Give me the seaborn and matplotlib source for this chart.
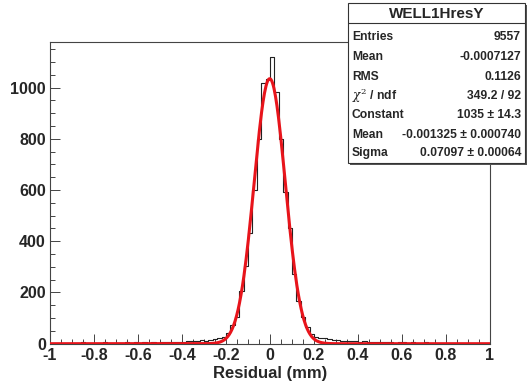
import numpy as np
import pandas as pd
import seaborn as sns
import matplotlib
matplotlib.use("Agg")
import matplotlib.pyplot as plt
from matplotlib.patches import Rectangle
from matplotlib.lines import Line2D

# ---------------- data ----------------
bin_lo, bin_hi, n_bins = -1.0, 1.0, 100
counts = [
    # -1.00 .. -0.40
    2, 3, 1, 4, 2, 3, 2, 5, 3, 2, 4, 3, 5, 2, 4, 3, 4, 6, 3, 5, 4, 5, 3, 6, 4, 7, 5, 6, 8, 7,
    # -0.40 .. -0.20
    8, 10, 9, 11, 13, 12, 15, 18, 22, 27,
    # -0.20 .. 0.20
    40, 73, 106, 204, 304, 433, 602, 798, 1020, 1032,
    1121, 982, 798, 591, 452, 273, 168, 106, 67, 38,
    # 0.20 .. 0.40
    28, 24, 22, 18, 16, 14, 12, 11, 10, 9,
    # 0.40 .. 1.00
    8, 9, 7, 6, 8, 5, 7, 6, 4, 5, 6, 4, 5, 3, 4, 5, 3, 4, 2, 3, 4, 2, 3, 3, 2, 4, 2, 1, 3, 2,
]
fit_constant = 1035.0
fit_mean = -0.001325
fit_sigma = 0.07097

stats_title = "WELL1HresY"
stats_labels = ["Entries", "Mean", "RMS", r"$\chi^{2}$ / ndf", "Constant", "Mean", "Sigma"]
stats_values = ["9557", "-0.0007127", "0.1126", "349.2 / 92",
                "1035 \u00b1 14.3", "-0.001325 \u00b1 0.000740", "0.07097 \u00b1 0.00064"]

x_label = "Residual (mm)"
x_ticks = [-1, -0.8, -0.6, -0.4, -0.2, 0, 0.2, 0.4, 0.6, 0.8, 1]
x_ticklabels = ["-1", "-0.8", "-0.6", "-0.4", "-0.2", "0", "0.2", "0.4", "0.6", "0.8", "1"]
y_ticks = [0, 200, 400, 600, 800, 1000]

# ---------------- style ----------------
sns.set_style("white")
plt.rcParams["font.family"] = ["Liberation Sans", "DejaVu Sans"]
plt.rcParams["mathtext.fontset"] = "dejavuserif"

W, H = 529, 383
fig = plt.figure(figsize=(W / 100, H / 100), dpi=100)

def fx(px):
    return px / W

def fy(py):
    return 1 - py / H

ax_l, ax_r, ax_t, ax_b = 50, 490, 42.3, 343.7
ax = fig.add_axes([fx(ax_l), fy(ax_b), fx(ax_r) - fx(ax_l), fy(ax_t) - fy(ax_b)])

edges = np.linspace(bin_lo, bin_hi, n_bins + 1)
centers = 0.5 * (edges[:-1] + edges[1:])
df = pd.DataFrame({"x": centers, "w": np.asarray(counts, dtype=float)})
sns.histplot(data=df, x="x", weights="w", bins=n_bins, binrange=(bin_lo, bin_hi),
             element="step", fill=False, color="#222222", linewidth=0.8, ax=ax)

xs = np.linspace(bin_lo, bin_hi, 600)
fit_df = pd.DataFrame({"x": xs,
                       "y": fit_constant * np.exp(-0.5 * ((xs - fit_mean) / fit_sigma) ** 2)})
sns.lineplot(data=fit_df, x="x", y="y", color="#e8141b", linewidth=2.2, ax=ax, zorder=5)

ax.set_xlim(bin_lo, bin_hi)
ax.set_ylim(0, 1.05 * max(counts))
ax.set_xticks(x_ticks)
ax.set_xticklabels(x_ticklabels)
ax.set_yticks(y_ticks)
ax.set_xticks(np.arange(-1, 1.0001, 0.05), minor=True)
ax.set_yticks(np.arange(0, 1.05 * max(counts), 50), minor=True)
ax.tick_params(axis="both", which="both", bottom=True, left=True, top=False, right=False)
ax.tick_params(axis="both", which="major", direction="in", length=7, width=0.7,
               labelsize=11.5, color="#444444", pad=3)
ax.tick_params(axis="both", which="minor", direction="in", length=3.5, width=0.7,
               color="#444444")
for lab in ax.get_xticklabels() + ax.get_yticklabels():
    lab.set_fontweight("bold")
ax.set_xlabel(x_label, fontsize=12, fontweight="bold", labelpad=2)
ax.set_ylabel("")
for s in ax.spines.values():
    s.set_linewidth(0.8)
    s.set_color("#444444")

# ---------------- stats box ----------------
bx_l, bx_r, bx_t, bx_b = 348, 525, 3, 163
shadow = 2
fig.add_artist(Rectangle((fx(bx_l + shadow), fy(bx_b + shadow)),
                         fx(bx_r - bx_l), fy(bx_t) - fy(bx_b),
                         transform=fig.transFigure, facecolor="#555555",
                         edgecolor="none", zorder=10))
fig.add_artist(Rectangle((fx(bx_l), fy(bx_b)), fx(bx_r - bx_l), fy(bx_t) - fy(bx_b),
                         transform=fig.transFigure, facecolor="white",
                         edgecolor="#333333", linewidth=0.8, zorder=11))
fig.add_artist(Line2D([fx(bx_l), fx(bx_r)], [fy(22.5), fy(22.5)],
                      transform=fig.transFigure, color="#333333", linewidth=0.8, zorder=12))
fig.text(fx((bx_l + bx_r) / 2), fy(14), stats_title, ha="center", va="center",
         fontsize=11, fontweight="bold", zorder=13)
row_y = [37, 57, 76.5, 96, 115.5, 134.5, 153]
for yy, lab, val in zip(row_y, stats_labels, stats_values):
    fig.text(fx(352), fy(yy), lab, ha="left", va="center", fontsize=8.7,
             fontweight="bold", zorder=13)
    fig.text(fx(521), fy(yy), val, ha="right", va="center", fontsize=8.7,
             fontweight="bold", zorder=13)

fig.savefig("out.png", dpi=100)
